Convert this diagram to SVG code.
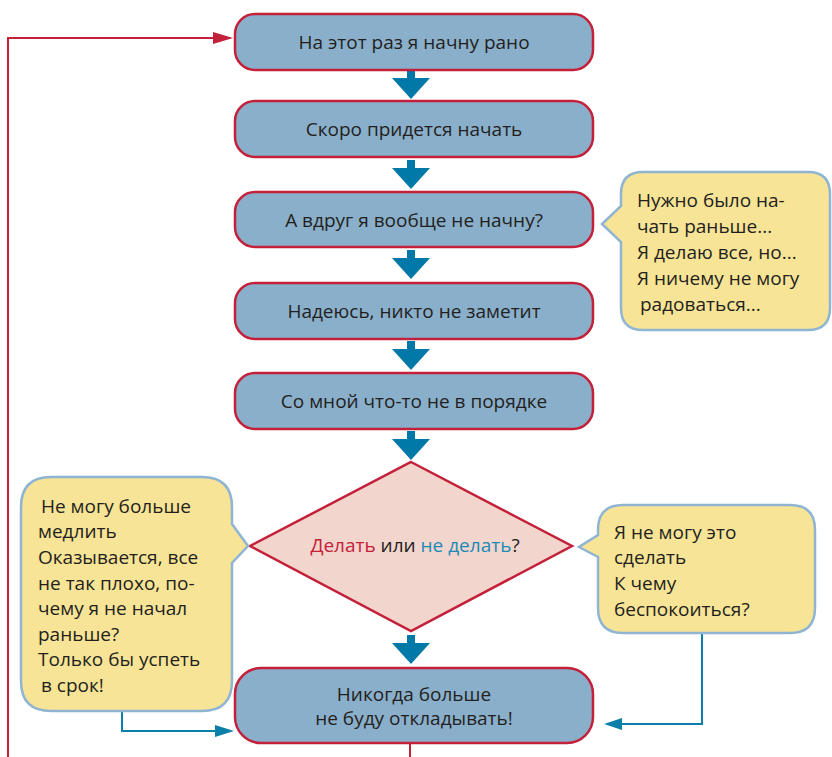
<svg xmlns="http://www.w3.org/2000/svg" width="832" height="757" viewBox="0 0 832 757">
<style>
.box{fill:#8aafcb;stroke:#c4203a;stroke-width:2.5}
.dia{fill:#f2d5cc;stroke:#c4203a;stroke-width:2.5}
.call{fill:#f8e496;stroke:#8fb5d3;stroke-width:2.5}
.t{font-family:"Open Sans","Noto Sans","DejaVu Sans",sans-serif;font-size:19px;fill:#231f20}
.c{text-anchor:middle}
.flow{fill:#0079a8}
.red{fill:none;stroke:#c4203a;stroke-width:2}
.blue{fill:none;stroke:#0c7fa8;stroke-width:2}
</style>
<defs>
<g id="flowArrow"><rect x="-4" y="0" width="8" height="10" class="flow"/><path d="M-19,8 L19,8 L0,29 z" class="flow"/></g>
</defs>
<g id="connectors">
<path class="red" d="M410,743 V757"/>
<path class="red" d="M8,757 V38 H213"/>
<path d="M213,32 L233,38 L213,44 z" fill="#c4203a"/>
<path class="blue" d="M122,711 V731 H216"/>
<path d="M215,725 L234,731 L215,737 z" fill="#0c7fa8"/>
<path class="blue" d="M702,633 V724 H622"/>
<path d="M622,718 L604,724 L622,730 z" fill="#0c7fa8"/>
<use href="#flowArrow" x="411" y="70"/>
<use href="#flowArrow" x="411" y="160"/>
<use href="#flowArrow" x="411" y="250"/>
<use href="#flowArrow" x="411" y="341"/>
<use href="#flowArrow" x="411" y="431"/>
<use href="#flowArrow" x="411" y="635"/>
</g>
<g id="n1"><rect class="box" x="235" y="14" width="358" height="56" rx="20"/><text class="t c" x="414" y="49">На этот раз я начну рано</text></g>
<g id="n2"><rect class="box" x="235" y="101" width="358" height="56" rx="20"/><text class="t c" x="414" y="136">Скоро придется начать</text></g>
<g id="n3"><rect class="box" x="235" y="192" width="358" height="55" rx="20"/><text class="t c" x="414" y="227">А вдруг я вообще не начну?</text></g>
<g id="n4"><rect class="box" x="235" y="283" width="358" height="56" rx="20"/><text class="t c" x="414" y="318">Надеюсь, никто не заметит</text></g>
<g id="n5"><rect class="box" x="235" y="373" width="358" height="56" rx="20"/><text class="t c" x="414" y="408">Со мной что-то не в порядке</text></g>
<g id="decision"><path class="dia" d="M411,462 L572,546 L411,631 L250,546 z"/><text class="t c" x="415" y="552"><tspan fill="#c4203a">Делать</tspan> или <tspan fill="#1a8ab8">не делать</tspan>?</text></g>
<g id="n6"><rect class="box" x="235" y="668" width="358" height="75" rx="26"/><text class="t c" x="414" y="701">Никогда больше</text><text class="t c" x="414" y="725">не буду откладывать!</text></g>
<g id="callout1"><path class="call" d="M643,172 H808 Q830,172 830,194 V308 Q830,330 808,330 H643 Q621,330 621,308 V242 L602,224 L621,206 V194 Q621,172 643,172 z"/>
<text class="t" x="637" y="207">Нужно было на-</text>
<text class="t" x="637" y="233">чать раньше...</text>
<text class="t" x="637" y="259">Я делаю все, но...</text>
<text class="t" x="637" y="285">Я ничему не могу</text>
<text class="t" x="640" y="311">радоваться...</text></g>
<g id="callout2"><path class="call" d="M51,477 H202 Q232,477 232,507 V524 L248,546 L232,563 V681 Q232,711 202,711 H51 Q21,711 21,681 V507 Q21,477 51,477 z"/>
<text class="t" x="41" y="513">Не могу больше</text>
<text class="t" x="38" y="538">медлить</text>
<text class="t" x="38" y="564">Оказывается, все</text>
<text class="t" x="38" y="590">не так плохо, по-</text>
<text class="t" x="38" y="615">чему я не начал</text>
<text class="t" x="38" y="641">раньше?</text>
<text class="t" x="38" y="666">Только бы успеть</text>
<text class="t" x="41" y="692">в срок!</text></g>
<g id="callout3"><path class="call" d="M623,505 H790 Q815,505 815,530 V608 Q815,633 790,633 H623 Q598,633 598,608 V557 L579,547 L598,535 V530 Q598,505 623,505 z"/>
<text class="t" x="614" y="539">Я не могу это</text>
<text class="t" x="614" y="564">сделать</text>
<text class="t" x="614" y="590">К чему</text>
<text class="t" x="614" y="616">беспокоиться?</text></g>
</svg>
